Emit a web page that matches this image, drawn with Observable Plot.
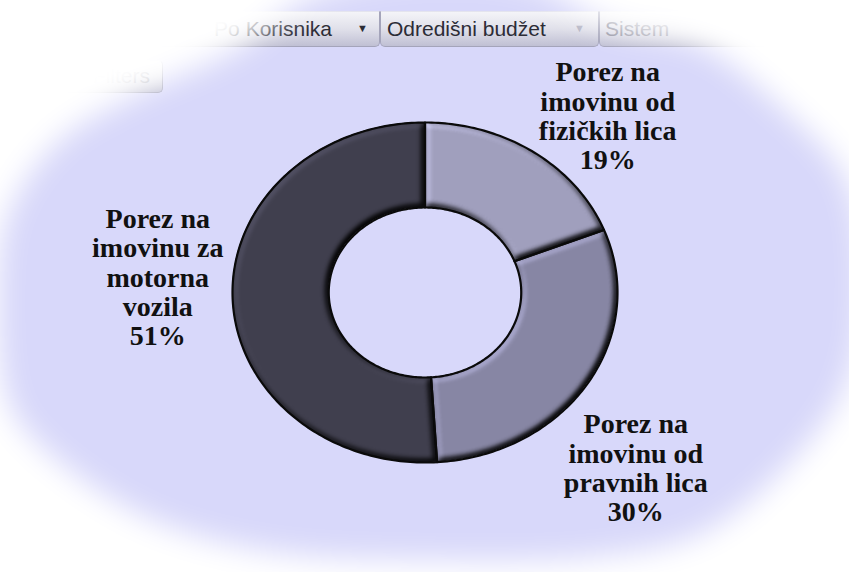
<!DOCTYPE html>
<html>
<head>
<meta charset="utf-8">
<script src="https://cdn.jsdelivr.net/npm/d3@7"></script>
<script src="https://cdn.jsdelivr.net/npm/@observablehq/plot@0.6"></script>
<style>
html, body { margin: 0; padding: 0; background: #ffffff; }
#wrap { position: relative; width: 849px; height: 572px; overflow: hidden; background: #d8d8fa; }
.btn { position: absolute; box-sizing: border-box; border: 1px solid #a4a4ba; border-top-color: #e4e4ee;
       border-radius: 0 0 5px 5px; background: linear-gradient(#f4f4f8, #e0e0ea 50%, #c0c0d4);
       font-family: "Liberation Sans", Arial, sans-serif; font-size: 21px; color: #2c2c36; white-space: nowrap; overflow: hidden; }
.btn .t { position: absolute; top: 5px; }
.btn .a { position: absolute; top: 10px; font-size: 11px; }
#chart { position: absolute; left: 0; top: 0; }
#vig { position: absolute; left: 0; top: 0; pointer-events: none; }
</style>
</head>
<body>
<div id="wrap">
  <div class="btn" style="left:96px; top:11px; width:284px; height:36px;">
    <span class="t" style="right:47px;">Po Korisnika</span>
    <span class="a" style="left:260px;">&#9660;</span>
  </div>
  <div class="btn" style="left:380px; top:11px; width:219px; height:36px;">
    <span class="t" style="left:6px;">Odredišni budžet</span>
    <span class="a" style="left:193px; color:#b4b4c4;">&#9660;</span>
  </div>
  <div class="btn" style="left:599px; top:11px; width:170px; height:36px;">
    <span class="t" style="left:5px; color:#8c8c9c;">Sistem</span>
  </div>
  <div class="btn" style="left:50px; top:60px; width:113px; height:33px; border-radius:5px;">
    <span class="t" style="right:12px; top:3px; color:#9a9aa8;">Filters</span>
  </div>
  <div id="chart"></div>
  <svg id="vig" width="849" height="572">
    <defs>
      <filter id="soft" filterUnits="userSpaceOnUse" x="-200" y="-200" width="1249" height="972"><feGaussianBlur stdDeviation="15"/></filter>
      <mask id="vm" maskUnits="userSpaceOnUse" x="0" y="0" width="849" height="572">
        <rect x="0" y="0" width="849" height="572" fill="white"/>
        <path id="vigShape" fill="black" filter="url(#soft)"/>
      </mask>
    </defs>
    <rect x="0" y="0" width="849" height="572" fill="white" mask="url(#vm)"/>
  </svg>
</div>
<script>
// ---- data ----
const categories = [
  "Porez na imovinu od fizičkih lica",
  "Porez na imovinu od pravnih lica",
  "Porez na imovinu za motorna vozila"
];
const labelLines = [
  ["Porez na", "imovinu od", "fizičkih lica"],
  ["Porez na", "imovinu od", "pravnih lica"],
  ["Porez na", "imovinu za", "motorna", "vozila"]
];
const shares = [19, 30, 51];
const colors = ["#a09fbd", "#8786a4", "#403f4e"];

// ---- vignette outline (page decoration) ----
const vignette = [[420,-24],[530,-16],[612,26],[700,46],[782,108],[846,180],[862,285],[846,385],[783,470],[700,534],[600,556],[425,560],[262,550],[140,514],[35,440],[8,400],[-2,300],[8,215],[58,142],[135,96],[236,50],[310,-2]];
document.getElementById("vigShape").setAttribute("d", d3.line().curve(d3.curveCatmullRomClosed)(vignette));

// ---- geometry built from the data ----
const total = d3.sum(shares);
let acc = 0;
const slices = shares.map((v, i) => {
  const a0 = acc / total * 2 * Math.PI;
  acc += v;
  const a1 = acc / total * 2 * Math.PI;
  return {key: categories[i], value: v, a0, a1, mid: (a0 + a1) / 2,
          text: labelLines[i].join("\n") + "\n" + v + "%"};
});
const outerR = 1, innerR = 0.5;
// annular sectors: outer arc (x1,y1) and inner arc (x2,y2)
const sectors = [];
const ring = [];
for (const s of slices) {
  const n = Math.max(2, Math.ceil((s.a1 - s.a0) / (Math.PI / 180)));
  for (let k = 0; k <= n; k++) {
    const a = s.a0 + (s.a1 - s.a0) * k / n;
    sectors.push({cat: s.key, x1: outerR * Math.sin(a), y1: outerR * Math.cos(a), x2: innerR * Math.sin(a), y2: innerR * Math.cos(a)});
    ring.push({cat: s.key, x: outerR * Math.sin(a), y: outerR * Math.cos(a)});
  }
  for (let k = n; k >= 0; k--) {
    const a = s.a0 + (s.a1 - s.a0) * k / n;
    ring.push({cat: s.key, x: innerR * Math.sin(a), y: innerR * Math.cos(a)});
  }
}
const labelR = 1.42;
const labelPos = slices.map(s => ({...s, lx: labelR * Math.sin(s.mid), ly: labelR * Math.cos(s.mid)}));
const labelOffsets = [[29, 23], [-20, 46], [6, -23]];

const textStyle = {x: "lx", y: "ly", text: "text", fontSize: 28, fontWeight: "bold",
  fontFamily: "'Liberation Serif', 'Times New Roman', serif", lineHeight: 1.05, fill: "#111111", textAnchor: "middle"};

const chart = Plot.plot({
  width: 849,
  height: 572,
  margin: 0,
  style: {background: "transparent", overflow: "visible"},
  x: {domain: [-1, 1], range: [232, 617], axis: null},
  y: {domain: [-1, 1], range: [462, 122], axis: null},
  color: {domain: categories, range: colors},
  marks: [
    Plot.area(sectors, {x1: "x1", y1: "y1", x2: "x2", y2: "y2", z: "cat", fill: "cat"}),
    Plot.area(sectors, {x1: "x1", y1: "y1", x2: "x2", y2: "y2", z: "cat", fill: "cat"}),
    Plot.line(ring, {x: "x", y: "y", z: "cat", fill: "none", stroke: "#0a0a0a", strokeWidth: 2.2, curve: "linear-closed", strokeLinejoin: "round"}),
    ...labelPos.map((d, i) => Plot.text([d], {...textStyle, dx: labelOffsets[i][0], dy: labelOffsets[i][1]}))
  ]
});
chart.style.background = "transparent";

// bevel shading on the upper copy of the slices
const svg = d3.select(chart);
const defs = svg.insert("defs", ":first-child");
const f = defs.append("filter").attr("id", "bevel").attr("x", "-5%").attr("y", "-5%").attr("width", "110%").attr("height", "110%")
  .attr("color-interpolation-filters", "sRGB");
f.append("feGaussianBlur").attr("in", "SourceAlpha").attr("stdDeviation", 3).attr("result", "blur");
f.append("feDiffuseLighting").attr("in", "blur").attr("surfaceScale", 5).attr("diffuseConstant", 1)
  .attr("lighting-color", "#ffffff").attr("result", "light")
  .append("feDistantLight").attr("azimuth", 225).attr("elevation", 55);
f.append("feComposite").attr("in", "SourceGraphic").attr("in2", "light").attr("operator", "arithmetic")
  .attr("k1", 1.22).attr("k2", 0).attr("k3", 0).attr("k4", 0).attr("result", "lit");
f.append("feComposite").attr("in", "lit").attr("in2", "SourceAlpha").attr("operator", "in");
const areas = chart.querySelectorAll('g[aria-label="area"]');
if (areas.length > 1) d3.select(areas[1]).selectAll("path").attr("filter", "url(#bevel)");

document.getElementById("chart").appendChild(chart);
</script>
</body>
</html>
